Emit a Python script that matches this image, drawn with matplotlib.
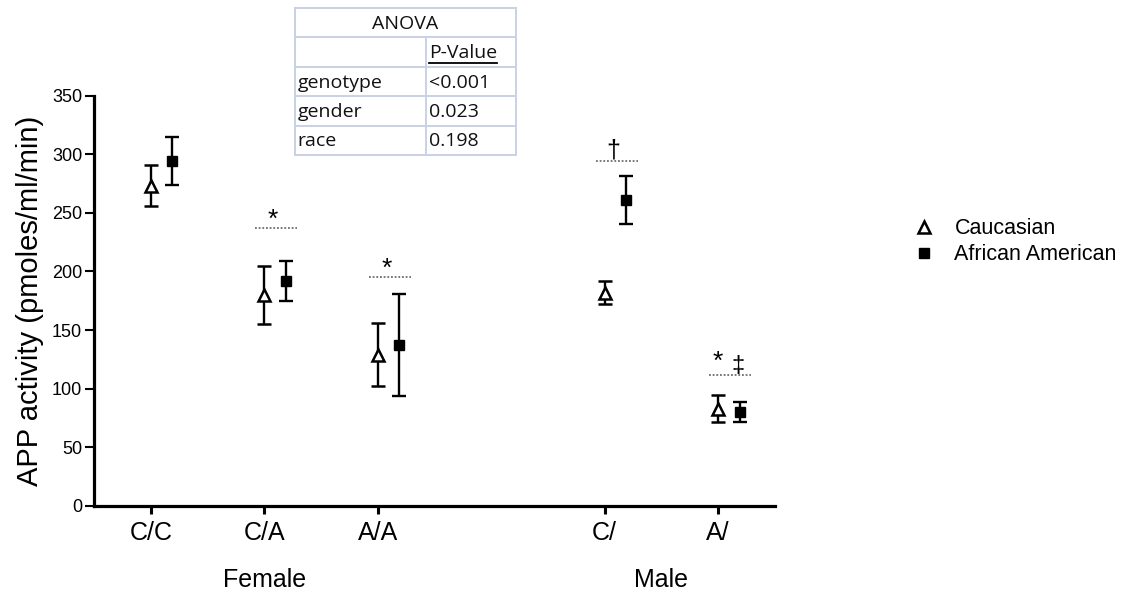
import matplotlib
matplotlib.use("Agg")
import matplotlib.pyplot as plt
import matplotlib.transforms as mtransforms
from matplotlib.lines import Line2D
import numpy as np

plt.rcParams['font.family'] = ['Liberation Sans', 'DejaVu Sans']

genotypes = ['C/C', 'C/A', 'A/A', 'C/', 'A/']
xpos = [1, 2, 3, 5, 6]
groups = ['Female', 'Male']
group_members = [[0, 1, 2], [3, 4]]

cauc_mean = [273, 180, 129, 182, 83]
cauc_err = [17.5, 25, 27, 10, 11.5]
afam_mean = [294, 192, 137.5, 261, 80]
afam_err = [20.5, 17, 43.5, 20.5, 8.5]

# significance marks: (genotype index, line level, symbols)
sig_index = [1, 2, 3, 4]
sig_level = [237, 195, 294, 112]
sig_text = [['*'], ['*'], ['\u2020'], ['*', '\u2021']]

anova_terms = ['genotype', 'gender', 'race']
anova_p = ['<0.001', '0.023', '0.198']

fig = plt.figure(figsize=(11.34, 5.95), dpi=100)
ax = fig.add_axes([0.0829, 0.150, 0.6005, 0.689])

x = np.array(xpos, dtype=float)
dx = 0.19
ax.errorbar(x, cauc_mean, yerr=cauc_err, fmt='^', ms=8, mfc='white', mec='black',
            mew=1.8, ecolor='black', elinewidth=1.7, capsize=5, capthick=1.7,
            label='Caucasian', zorder=3)
ax.errorbar(x + dx, afam_mean, yerr=afam_err, fmt='s', ms=7, mfc='black', mec='black',
            ecolor='black', elinewidth=1.7, capsize=5, capthick=1.7,
            label='African American', zorder=3)

for i, lev, txt in zip(sig_index, sig_level, sig_text):
    x0 = x[i] - 0.08
    x1 = x[i] + dx + 0.1
    ax.plot([x0, x1], [lev, lev], color='#555555', lw=1.1, ls=(0, (1.2, 1.2)))
    if txt == ['*']:
        ax.text((x0 + x1) / 2 - 0.03, lev + 1, txt[0], ha='center', va='baseline', fontsize=19)
    elif len(txt) == 1:
        ax.text((x0 + x1) / 2 - 0.03, lev + 3, txt[0], ha='center', va='baseline', fontsize=18)
    else:
        ax.text(x[i], lev + 5, txt[0], ha='center', va='baseline', fontsize=19)
        ax.text(x[i] + dx - 0.02, lev + 2.5, txt[1], ha='center', va='baseline', fontsize=17)

ax.set_xlim(0.5, 6.5)
ax.set_ylim(0, 350)
ax.set_yticks(np.arange(0, 351, 50))
ax.set_xticks(x)
ax.set_xticklabels(genotypes, fontsize=18)
ax.tick_params(axis='y', labelsize=13, length=6.5, width=1.5, pad=2)
ax.tick_params(axis='x', length=6, width=2.2, pad=5)
for s in ['top', 'right']:
    ax.spines[s].set_visible(False)
for s in ['left', 'bottom']:
    ax.spines[s].set_linewidth(2.3)
ax.set_ylabel('APP activity (pmoles/ml/min)', fontsize=21, labelpad=6)

trans = mtransforms.blended_transform_factory(ax.transData, ax.transAxes)
for g, members in zip(groups, group_members):
    gx = np.mean([x[m] for m in members])
    ax.text(gx, -0.198, g, transform=trans, ha='center', va='baseline', fontsize=18)

handles = [Line2D([], [], marker='^', ls='none', ms=8, mfc='white', mec='black', mew=1.8),
           Line2D([], [], marker='s', ls='none', ms=7, mfc='black', mec='black')]
fig.legend(handles, ['Caucasian', 'African American'], loc='upper left',
           bbox_to_anchor=(0.798, 0.648), frameon=False, fontsize=15.5,
           handlelength=1.0, handletextpad=0.9, labelspacing=0.25, borderaxespad=0)

# ANOVA table
tx = fig.add_axes([295 / 1134, 1 - 155 / 595, 221 / 1134, 147 / 595])
tx.set_xlim(0, 221)
tx.set_ylim(147, 0)
tx.axis('off')
bcol = '#c9d2e3'
rows = np.linspace(0, 147, 6)
for r in rows:
    tx.plot([0, 221], [r, r], color=bcol, lw=1.4, clip_on=False)
tx.plot([0, 0], [0, 147], color=bcol, lw=1.4, clip_on=False)
tx.plot([221, 221], [0, 147], color=bcol, lw=1.4, clip_on=False)
tx.plot([130.7, 130.7], [rows[1], 147], color=bcol, lw=1.4, clip_on=False)
tfont = dict(family=['Open Sans', 'DejaVu Sans'], fontsize=14, color='#111111', va='center')
tx.text(110.5, (rows[0] + rows[1]) / 2 + 1, 'ANOVA', ha='center', **tfont)
pv = tx.text(134, (rows[1] + rows[2]) / 2 + 1, 'P-Value', ha='left', **tfont)
for k, (term, p) in enumerate(zip(anova_terms, anova_p)):
    yc = (rows[k + 2] + rows[k + 3]) / 2 + 1
    tx.text(2.5, yc, term, ha='left', **tfont)
    tx.text(134, yc, p, ha='left', **tfont)

fig.canvas.draw()
bb = pv.get_window_extent().transformed(tx.transData.inverted())
tx.plot([bb.x0, bb.x1], [rows[2] - 3.5, rows[2] - 3.5], color='black', lw=1.3)

fig.savefig('out.png', dpi=100)
